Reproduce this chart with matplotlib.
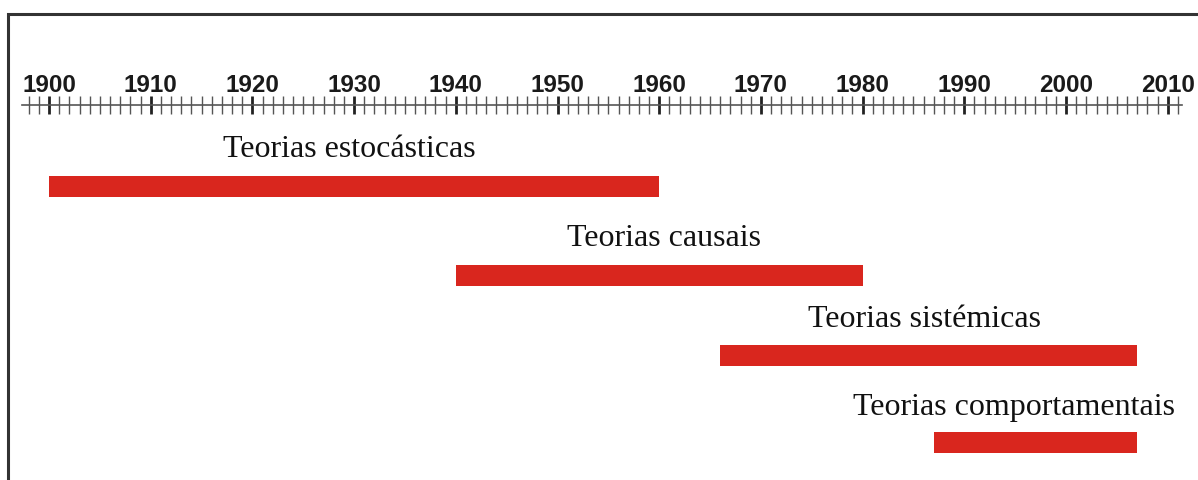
import numpy as np
import matplotlib.pyplot as plt
from matplotlib.patches import Rectangle

theories = ['Teorias estocásticas', 'Teorias causais', 'Teorias sistémicas', 'Teorias comportamentais']
start_year = [1900, 1940, 1966, 1987]
end_year = [1960, 1980, 2007, 2007]

# layout (pixel rows below the timeline, label shift in years)
bar_row = [81.5, 170, 250, 337]
label_row = [51, 140, 221, 309]
label_shift = [-0.5, 0.5, -0.4, -2.1]

W, H = 1198, 481
fig = plt.figure(figsize=(W / 100, H / 100), dpi=100)

# frame around the picture
fig.patches.append(Rectangle((8 / W, -0.1), 1.2, 1.1 - 15 / H, transform=fig.transFigure,
                             fill=False, edgecolor='#333333', linewidth=2.2))

ax = fig.add_axes([22 / W, 0, (1182 - 22) / W, 1 - 106 / H])
ax.set_xlim(1900 - 27 / 10.17, 1900 + 1133 / 10.17)
ax.set_ylim(375, 0)

widths = np.array(end_year) - np.array(start_year)
ax.barh(bar_row, widths, left=start_year, height=21, color='#d9261e')

for name, s, e, r, sh in zip(theories, start_year, end_year, label_row, label_shift):
    ax.text((s + e) / 2 + sh, r, name, ha='center', va='baseline',
            fontsize=23, family='Liberation Serif', color='#111111')

for side in ['left', 'right', 'bottom']:
    ax.spines[side].set_visible(False)
ax.spines['top'].set_color('#555555')
ax.spines['top'].set_linewidth(1.2)
ax.set_yticks([])

ax.xaxis.tick_top()
ax.set_xticks(np.arange(1900, 2011, 10))
ax.set_xticks(np.arange(1898, 2012, 1), minor=True)
ax.tick_params(axis='x', which='major', direction='inout', length=13, width=2,
               color='#222222', pad=0, labelsize=17.5, labelcolor='#1a1a1a')
ax.tick_params(axis='x', which='minor', direction='inout', length=13, width=1,
               color='#555555')
for lab in ax.get_xticklabels():
    lab.set_fontfamily('Liberation Sans')
    lab.set_fontweight('bold')

fig.savefig('out.png', dpi=100)
